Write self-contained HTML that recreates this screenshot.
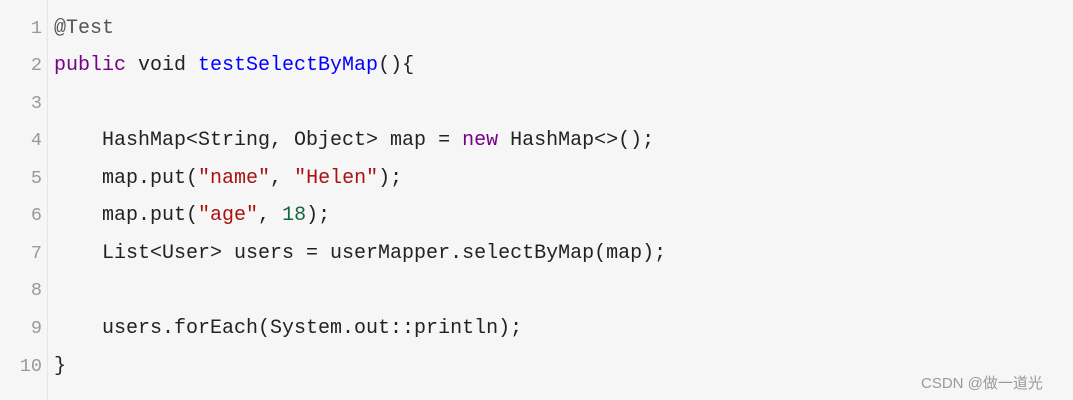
<!DOCTYPE html>
<html><head><meta charset="utf-8"><style>
html,body{margin:0;padding:0}
body{width:1073px;height:400px;background:#f6f6f6;position:relative;overflow:hidden;font-family:"Liberation Mono",monospace;font-size:20px;}
.sep{position:absolute;left:47px;top:0;width:1px;height:400px;background:#e6e6e6}
.l{position:absolute;left:0;height:24px;line-height:24px;white-space:pre;color:#222}
.n{display:inline-block;width:42px;text-align:right;color:#999;margin-right:12px;font-size:18.5px}
.k{color:#770088}.f{color:#0000ff}.s{color:#aa1111}.d{color:#116644}.m{color:#555}
.wm{position:absolute;left:921px;top:372px;font-family:"Liberation Sans","Noto Sans CJK SC",sans-serif;font-size:15px;color:#999}
</style></head><body>
<div class="sep"></div>
<div class="l" style="top:17px"><span class="n">1</span><span class="m">@Test</span></div>
<div class="l" style="top:54px"><span class="n">2</span><span class="k">public</span> void <span class="f">testSelectByMap</span>(){</div>
<div class="l" style="top:92px"><span class="n">3</span></div>
<div class="l" style="top:129px"><span class="n">4</span>    HashMap&lt;String, Object&gt; map = <span class="k">new</span> HashMap&lt;&gt;();</div>
<div class="l" style="top:167px"><span class="n">5</span>    map.put(<span class="s">"name"</span>, <span class="s">"Helen"</span>);</div>
<div class="l" style="top:204px"><span class="n">6</span>    map.put(<span class="s">"age"</span>, <span class="d">18</span>);</div>
<div class="l" style="top:242px"><span class="n">7</span>    List&lt;User&gt; users = userMapper.selectByMap(map);</div>
<div class="l" style="top:279px"><span class="n">8</span></div>
<div class="l" style="top:317px"><span class="n">9</span>    users.forEach(System.out::println);</div>
<div class="l" style="top:355px"><span class="n">10</span>}</div>
<div class="wm">CSDN @做一道光</div>
</body></html>
